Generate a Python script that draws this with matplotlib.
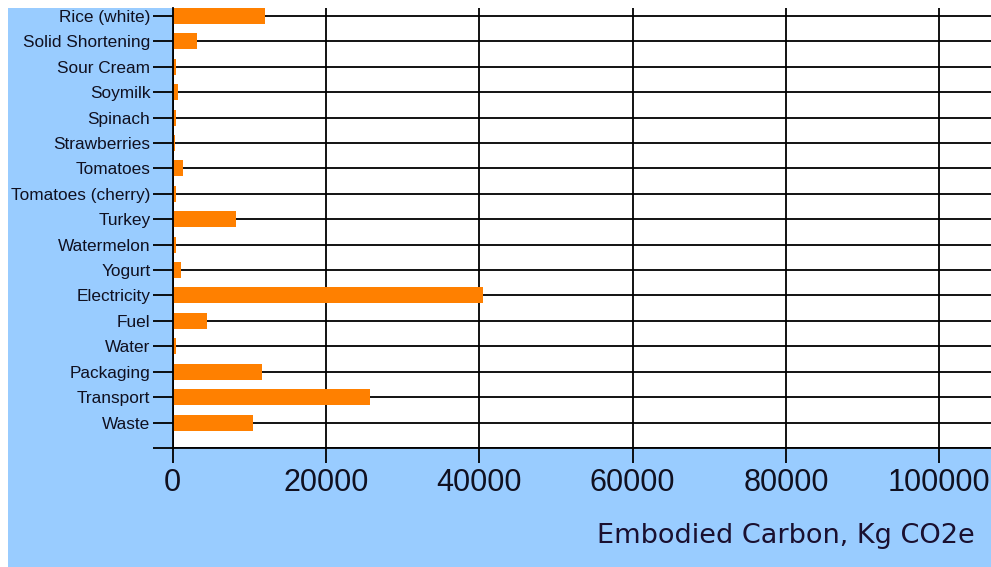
import numpy as np
import matplotlib
matplotlib.use('Agg')
import matplotlib.pyplot as plt
from matplotlib.patches import Rectangle

# data (kg CO2e)
categories = ['Rice (white)', 'Solid Shortening', 'Sour Cream', 'Soymilk', 'Spinach',
              'Strawberries', 'Tomatoes', 'Tomatoes (cherry)', 'Turkey', 'Watermelon',
              'Yogurt', 'Electricity', 'Fuel', 'Water', 'Packaging', 'Transport', 'Waste']
values = [12000, 3230, 420, 720, 420,
          365, 1370, 420, 8280, 420,
          1070, 40530, 4540, 420, 11670, 25750, 10460]
xticks = [0, 20000, 40000, 60000, 80000, 100000]
xlabel = 'Embodied Carbon, Kg CO2e'

blue = '#99ccff'
orange = '#ff8000'

W, H = 991, 567
fig = plt.figure(figsize=(W / 100, H / 100), dpi=100, facecolor='white')
# blue panel, with a thin white strip on top and left
fig.patches.append(Rectangle((8 / W, 0), 1 - 8 / W, (H - 8) / H,
                             transform=fig.transFigure, facecolor=blue,
                             edgecolor='none', zorder=-10))

ax = fig.add_axes([172.5 / W, 119 / H, 1 - 172.5 / W, (448 - 8) / H])
ax.set_facecolor('white')

n = len(categories)
ypos = np.arange(n, 0, -1)
ax.barh(ypos, values, height=0.63, color=orange, zorder=3)

ax.set_xlim(0, 106730)
ax.set_ylim(0, n + 0.31)

ax.set_yticks(list(ypos) + [0])
ax.set_yticklabels(categories + [''], fontsize=12.4, family=['Liberation Sans'],
                   color='#101020')
ax.set_xticks(xticks)
ax.set_xticklabels([str(t) for t in xticks], fontsize=22,
                   family=['Liberation Sans Narrow', 'Liberation Sans'],
                   color='#101020')

ax.tick_params(axis='y', length=14.4, width=1.3, pad=1.5, color='black')
ax.tick_params(axis='x', length=10.8, width=1.3, pad=3.5, color='black')

ax.grid(True, color='black', linewidth=1.3, zorder=1)
ax.set_axisbelow(True)

for side in ['top', 'right']:
    ax.spines[side].set_visible(False)
for side in ['left', 'bottom']:
    ax.spines[side].set_linewidth(1.3)
    ax.spines[side].set_zorder(4)

fig.text(975 / W, (H - 543) / H, xlabel, ha='right', va='baseline',
         fontsize=19.5, family=['DejaVu Sans'], color='#1a1030')

fig.savefig('out.png', dpi=100, facecolor=fig.get_facecolor())
